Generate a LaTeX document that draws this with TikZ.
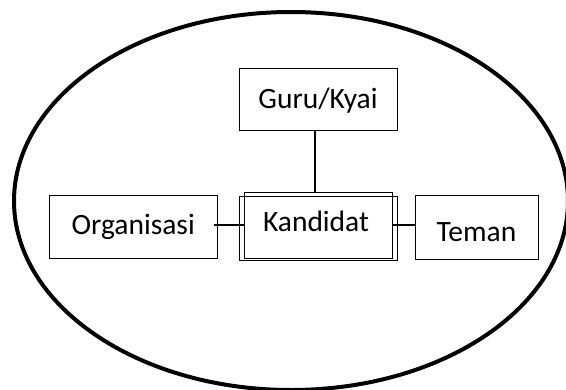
\documentclass[tikz,border=0pt]{standalone}
\usepackage{fontspec}
\setmainfont{Carlito}
\begin{document}
\begin{tikzpicture}[x=1pt,y=-1pt,
  box/.style={draw=black, line width=1pt, inner sep=0pt, rectangle,
    text height=19pt, text depth=0pt,
    font=\fontsize{29.5}{34}\selectfont},
  link/.style={draw=black, line width=1.2pt}]
\useasboundingbox (0,0) rectangle (566,389);
\fill[white] (0,0) rectangle (566,389);
\begin{scope}
\clip (0,0) rectangle (566,389);
\draw[line width=4pt] (291,201) ellipse [x radius=277, y radius=189];
\end{scope}
\node[box, minimum width=158pt, minimum height=62pt] (guru) at (318,99) {Guru/Kyai};
\node[box, minimum width=158pt, minimum height=64pt] (kand) at (318,228) {\raisebox{6pt}{\hspace*{-4pt}Kandidat}};
\node[box, minimum width=148pt, minimum height=66pt] (kand2) at (318,225) {};
\node[box, minimum width=167.5pt, minimum height=63pt] (org) at (133.25,226.5) {\raisebox{2pt}{Organisasi}};
\node[box, minimum width=123pt, minimum height=64pt] (teman) at (476.5,227) {\raisebox{-5pt}{Teman}};
\draw[link] ([xshift=-3pt]guru.south) -- ([xshift=-3pt]kand2.north);
\draw[link] ([xshift=-4pt]kand2.west -| org.east) -- (kand2.west);
\draw[link] (kand2.east) -- (kand2.east -| teman.west);
\end{tikzpicture}
\end{document}
